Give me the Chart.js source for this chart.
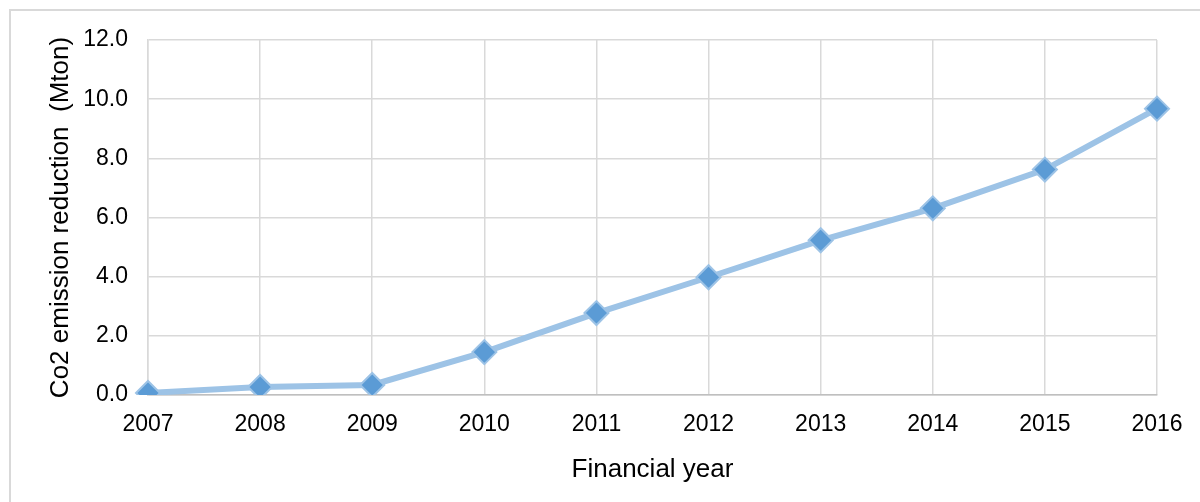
<!DOCTYPE html>
<html lang="en">
<head>
    <meta charset="UTF-8">
    <title>Co2 emission reduction</title>
    <script src="https://cdn.jsdelivr.net/npm/chart.js"></script>
    <style>
        html, body {
            margin: 0;
            padding: 0;
            background-color: #ffffff;
        }
        .chart-box {
            position: relative;
            width: 1200px;
            height: 502px;
        }
    </style>
</head>
<body>
    <div class="chart-box">
        <canvas id="co2Chart" width="1200" height="502"></canvas>
    </div>

    <script>
        const years = ['2007', '2008', '2009', '2010', '2011', '2012', '2013', '2014', '2015', '2016'];
        const co2Reduction = [0.07, 0.27, 0.34, 1.45, 2.77, 3.98, 5.23, 6.31, 7.62, 9.68];
        const yTicks = [0, 2, 4, 6, 8, 10, 12];

        const fontFamily = "'Liberation Sans', Arial, sans-serif";

        // light grey frame round the whole chart
        const frame = {
            id: 'frame',
            beforeDraw(chart) {
                const ctx = chart.ctx;
                ctx.save();
                ctx.strokeStyle = '#d9d9d9';
                ctx.lineWidth = 2;
                ctx.strokeRect(10, 10, 1300, 600);
                ctx.restore();
            }
        };

        document.addEventListener('DOMContentLoaded', () => {
            const ctx = document.getElementById('co2Chart').getContext('2d');
            new Chart(ctx, {
                type: 'line',
                data: {
                    labels: years,
                    datasets: [{
                        label: 'Co2 emission reduction',
                        data: co2Reduction,
                        borderColor: '#9dc3e6',
                        borderWidth: 6,
                        pointStyle: 'rectRot',
                        pointRadius: 12,
                        pointBorderWidth: 2,
                        pointBackgroundColor: '#5b9bd5',
                        pointBorderColor: '#9dc3e6',
                        tension: 0
                    }]
                },
                options: {
                    responsive: false,
                    animation: false,
                    layout: {
                        padding: { left: 0, right: 43, top: 40, bottom: 0 }
                    },
                    plugins: {
                        legend: { display: false },
                        tooltip: { enabled: false }
                    },
                    scales: {
                        x: {
                            offset: false,
                            grid: {
                                color: '#d9d9d9',
                                lineWidth: 1.5,
                                drawTicks: false
                            },
                            border: { color: '#bfbfbf', width: 1.5 },
                            ticks: {
                                color: '#000000',
                                padding: 16,
                                maxRotation: 0,
                                autoSkip: false,
                                font: { family: fontFamily, size: 23 }
                            },
                            title: {
                                display: true,
                                text: 'Financial year',
                                color: '#000000',
                                padding: { top: 0, bottom: 17 },
                                font: { family: fontFamily, size: 26 }
                            },
                            afterFit(axis) {
                                axis.height = 107;
                            }
                        },
                        y: {
                            min: 0,
                            max: 12,
                            afterBuildTicks(axis) {
                                axis.ticks = yTicks.map(v => ({ value: v }));
                            },
                            grid: {
                                color: '#d9d9d9',
                                lineWidth: 1.5,
                                drawTicks: false
                            },
                            border: { color: '#d9d9d9', width: 1.5 },
                            ticks: {
                                color: '#000000',
                                padding: 20,
                                font: { family: fontFamily, size: 23 },
                                callback: (value) => Number(value).toFixed(1)
                            },
                            title: {
                                display: true,
                                text: 'Co2 emission reduction  (Mton)',
                                color: '#000000',
                                padding: { top: 45, bottom: 0 },
                                font: { family: fontFamily, size: 26 }
                            },
                            afterFit(axis) {
                                axis.width = 148;
                            }
                        }
                    }
                },
                plugins: [frame]
            });
        });
    </script>
</body>
</html>
